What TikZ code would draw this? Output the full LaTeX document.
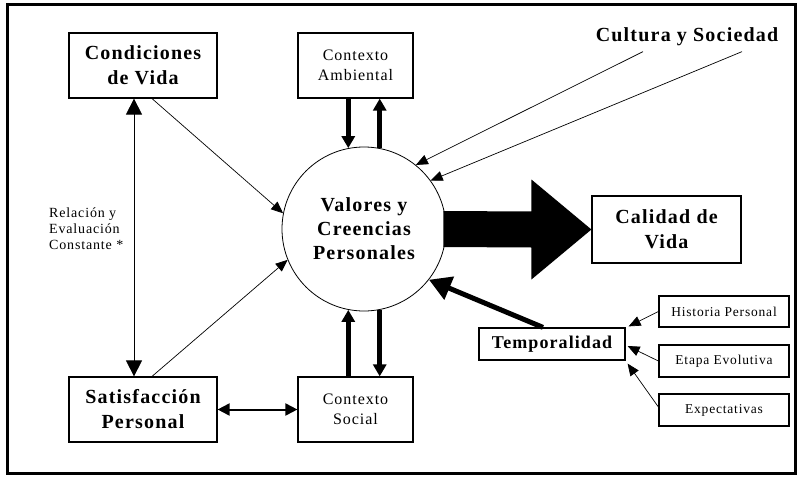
\documentclass[tikz,border=0pt]{standalone}
\usepackage{fontspec}
\setmainfont{Liberation Serif}
\newfontfamily\lsfont[LetterSpace=6]{Liberation Serif}
\usetikzlibrary{arrows.meta,calc}
\begin{document}
\begin{tikzpicture}[x=1pt,y=-1pt,
 box/.style={draw,line width=1.2pt,inner sep=0pt,align=center},
 bigtxt/.style={font=\lsfont\fontsize{20}{25}\selectfont\bfseries},
 midtxt/.style={font=\lsfont\fontsize{16}{20}\selectfont},
 smalltxt/.style={font=\lsfont\fontsize{13.5}{16}\selectfont},
 thinarrow/.style={line width=0.7pt,-{Triangle[length=12pt,width=10pt]}},
 thickarrow/.style={line width=4.5pt,-{Triangle[length=12pt,width=13pt]}},
]
\useasboundingbox (0,0) rectangle (802,484);
\draw[line width=3pt] (7,5) rectangle (795,473);

\node[box,bigtxt,minimum width=148pt,minimum height=65pt] (cond) at (143,65.5) {Condiciones\\de Vida};
\node[box,midtxt,minimum width=115pt,minimum height=65pt] (amb) at (355.5,65.5) {Contexto\\Ambiental};
\node[box,bigtxt,minimum width=148pt,minimum height=65pt] (sat) at (143,409.5) {Satisfacción\\Personal};
\node[box,midtxt,minimum width=115pt,minimum height=65pt] (soc) at (355.5,409.5) {Contexto\\Social};
\node[circle,draw,line width=0.8pt,minimum size=164pt,inner sep=0pt,align=center,font=\lsfont\fontsize{20}{24}\selectfont\bfseries] (val) at (364,229) {Valores y\\Creencias\\Personales};
\node[box,bigtxt,minimum width=149pt,minimum height=67pt] (cal) at (666.5,229.5) {Calidad de\\Vida};
\node[box,font=\lsfont\fontsize{18}{20}\selectfont\bfseries,minimum width=146pt,minimum height=32pt] (temp) at (552,344) {Temporalidad};
\node[box,smalltxt,minimum width=130pt,minimum height=31pt] (hist) at (724,311.5) {Historia Personal};
\node[box,smalltxt,minimum width=130pt,minimum height=32pt] (etapa) at (724,361) {Etapa Evolutiva};
\node[box,smalltxt,minimum width=130pt,minimum height=32pt] (expe) at (724,410) {Expectativas};
\node[bigtxt] (cult) at (687,37) {Cultura y Sociedad};
\node[font=\lsfont\fontsize{14}{16}\selectfont,align=left,anchor=west,inner sep=0pt] (rel) at (49,229) {Relación y\\Evaluación\\Constante *};

% big arrow
\fill ($(val.east)+(-3,-18)$) -- ($(cal.west)+(-60,-18)$) -- ($(cal.west)+(-60,-50)$) -- (cal.west) -- ($(cal.west)+(-60,50)$) -- ($(cal.west)+(-60,18)$) -- ($(val.east)+(-3,18)$) -- cycle;

% thick arrows
\draw[thickarrow] (amb.south -| val.101) -- (val.101);
\draw[thickarrow] (val.79) -- (amb.south -| val.79);
\draw[thickarrow] (soc.north -| val.259) -- (val.259);
\draw[thickarrow] (val.281) -- (soc.north -| val.281);
\draw[line width=5pt,-{Triangle[length=22pt,width=24pt]}] ($(temp.north)+(-9,0)$) -- (val.322);

% thin arrows
\draw[thinarrow] ($(cond.south)+(9,0)$) -- (val.169);
\draw[thinarrow] ($(sat.north)+(9,0)$) -- (val.202);
\draw[thinarrow] ($(cult.south)+(-44,2)$) -- (val.51);
\draw[thinarrow] ($(cult.south)+(55,2)$) -- (val.36);
\draw[line width=0.8pt,{Triangle[length=16pt,width=16pt]}-{Triangle[length=16pt,width=16pt]}] ($(cond.south)+(-9,0)$) -- ($(sat.north)+(-9,0)$);
\draw[line width=2pt,{Triangle[length=12pt,width=12pt]}-{Triangle[length=12pt,width=12pt]}] (sat.east) -- (soc.west);
\draw[thinarrow] (hist.west) -- ($(temp.north east)+(3,-1)$);
\draw[thinarrow] (etapa.west) -- ($(temp.east)+(2,2)$);
\draw[thinarrow] ($(expe.west)+(0,-3)$) -- ($(temp.south east)+(2,3)$);
\end{tikzpicture}
\end{document}
